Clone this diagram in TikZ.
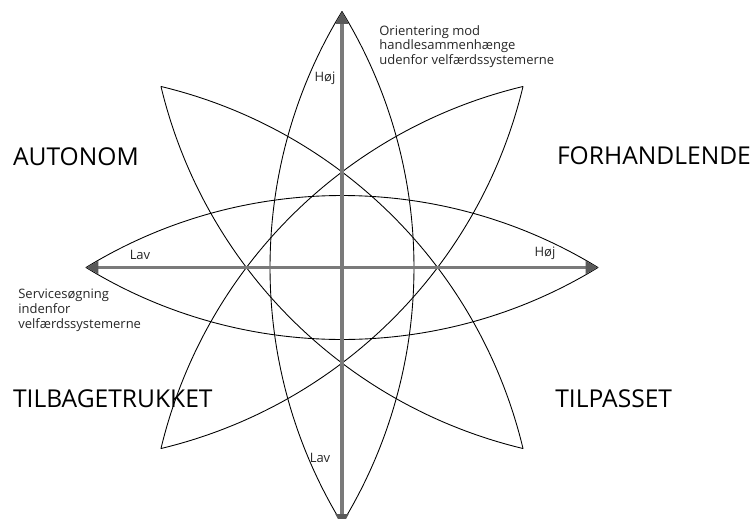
\documentclass[tikz,border=0pt]{standalone}
\usepackage{fontspec}
\setmainfont{Open Sans}
\usetikzlibrary{arrows.meta}

\tikzset{
  lens/.style={line width=0.5pt, draw=black},
  axis/.style={line width=1.8pt, draw=black!52,
    {Triangle[width=7pt,length=7pt,color=black!65]}-{Triangle[width=7pt,length=7pt,color=black!65]}},
  bigtxt/.style={font=\fontsize{14}{16}\selectfont, anchor=base west, inner sep=0pt},
  smalltxt/.style={font=\fontsize{7.4}{8.3}\selectfont, align=left, anchor=north west, inner sep=0pt, text=black!85},
  scaletxt/.style={font=\fontsize{7.4}{8.3}\selectfont, inner sep=0pt, text=black!85}
}

\begin{document}
\begin{tikzpicture}[x=0.02cm,y=0.02cm, line cap=round, line join=round]
  \useasboundingbox (-342,-250.5) rectangle (408,267.5);
  \coordinate (c) at (0,0);
  %% tips of the four lenses
  \foreach \a in {0,45,...,315}
    \coordinate (t\a) at (\a:256);
  \coordinate (bot) at (0,-259);

  %% lenses
  \foreach \a/\b in {0/180,45/225,90/270,135/315}
    \draw[lens] (t\a) to[bend left=31.5, looseness=0.92] (t\b)
                      to[bend left=31.5, looseness=0.92] (t\a);

  %% axes
  \draw[axis] (t180) -- (t0);
  \draw[axis] (bot) -- (t90);

  %% scale labels
  \node[scaletxt] (hojv) at (-17,189.5) {Høj};
  \node[scaletxt] (lavv) at (-22,-190.5) {Lav};
  \node[scaletxt] (lavh) at (-202,12.5) {Lav};
  \node[scaletxt] (hojh) at (203,14.5) {Høj};

  %% axis descriptions
  \node[smalltxt] (orient) at (37,242.5) {Orientering mod\\handlesammenhænge\\udenfor velfærdssystemerne};
  \node[smalltxt] (service) at (-324,-21.5) {Servicesøgning\\indenfor\\velfærdssystemerne};

  %% quadrants
  \node[bigtxt] (autonom) at (-329.3,102.5) {AUTONOM};
  \node[bigtxt] (forhandl) at (214.7,103.5) {FORHANDLENDE};
  \node[bigtxt] (tilbage) at (-329.3,-139.5) {TILBAGETRUKKET};
  \node[bigtxt] (tilpas) at (213,-139.5) {TILPASSET};
\end{tikzpicture}
\end{document}
